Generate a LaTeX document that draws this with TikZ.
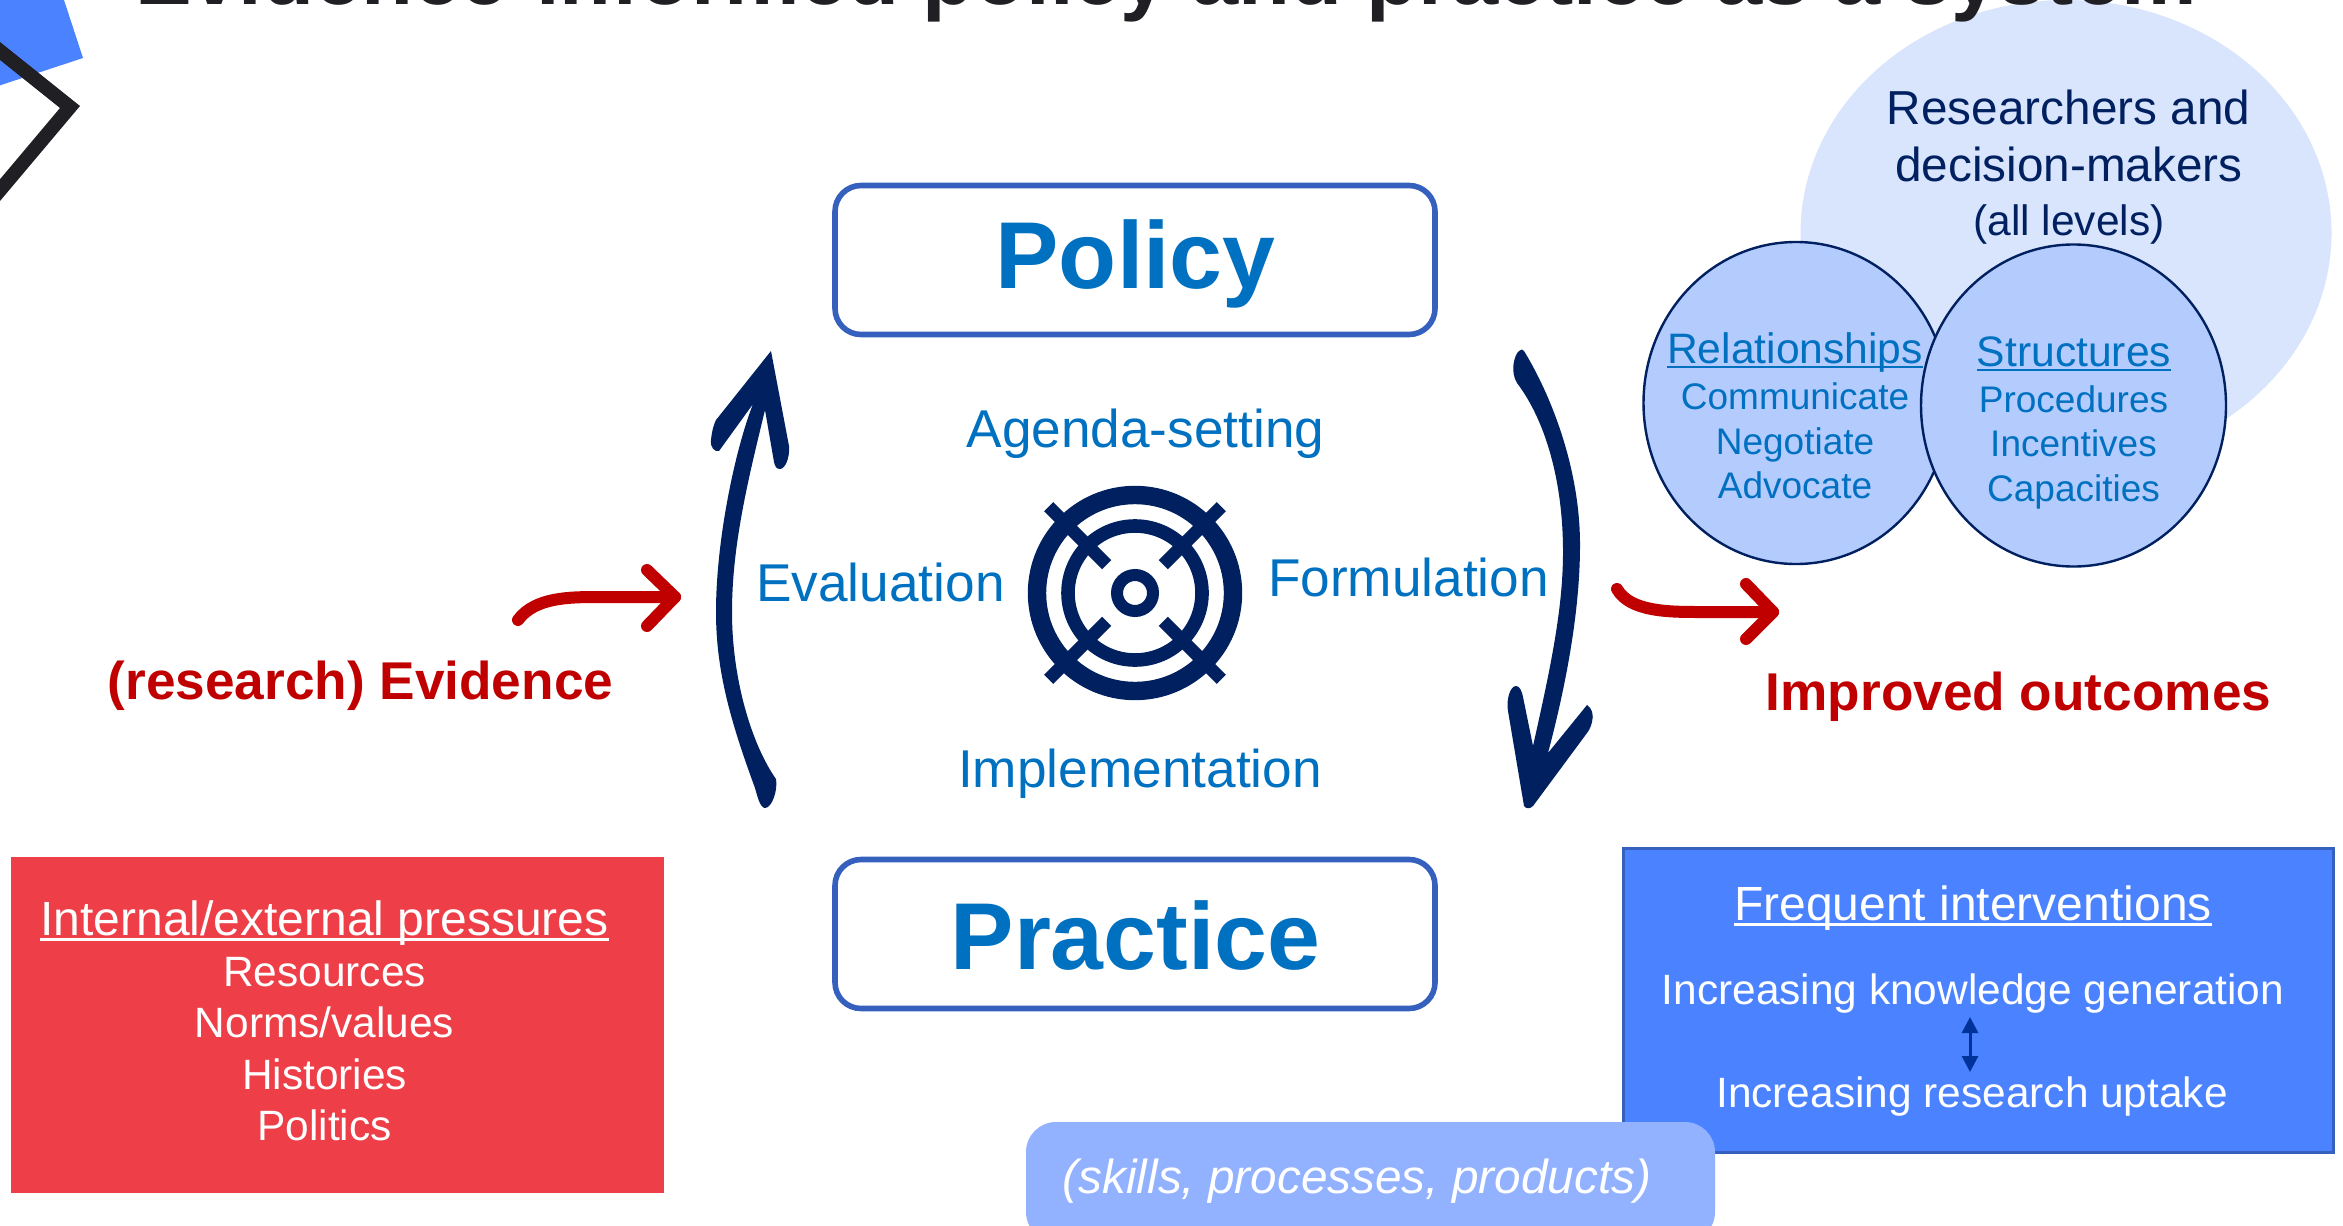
\documentclass[tikz,border=0pt]{standalone}
\usepackage{fontspec}
\usetikzlibrary{shapes.geometric,arrows.meta,calc}
\setmainfont{Liberation Sans}
\definecolor{navy}{HTML}{002060}
\definecolor{tblue}{HTML}{0070C0}
\definecolor{tred}{HTML}{C00000}
\definecolor{boxedge}{HTML}{3560BE}
\definecolor{redbox}{HTML}{EE3F48}
\definecolor{bluebox}{HTML}{4A82FF}
\definecolor{palebox}{HTML}{92B2FF}
\definecolor{palecirc}{HTML}{D9E4FD}
\definecolor{midcirc}{HTML}{B4CBFD}
\definecolor{inkblack}{HTML}{1F1F24}
\definecolor{dblarrow}{HTML}{003399}
% font size given in points (1 reference px = 0.5 pt)
\newcommand{\pxf}[1]{\fontsize{#1pt}{#1pt}\selectfont}
\newcommand{\myul}[1]{\sbox0{#1}\rlap{\rule[-0.115em]{\wd0}{0.06em}}\box0}
\tikzset{
  lbl/.style={inner sep=0pt,outer sep=0pt,anchor=base,align=center},
  blu/.style={lbl,text=tblue},
  nav/.style={lbl,text=navy},
  wht/.style={lbl,text=white},
  rdb/.style={lbl,text=tred,font=\pxf{26.6}\bfseries},
  mainbox/.style={draw=boxedge,line width=2.8pt,fill=white,rounded corners=13pt,inner sep=0pt,minimum width=300pt,minimum height=74.5pt},
  smallcirc/.style={ellipse,draw=navy,line width=1.2pt,fill=midcirc,inner sep=0pt,minimum width=152.5pt,minimum height=161pt},
  redline/.style={draw=tred,line width=6pt,line cap=round,line join=round},
  navyfill/.style={fill=navy,draw=none},
}
\begin{document}
\begin{tikzpicture}[x=0.5pt,y=-0.5pt]
\useasboundingbox (0,0) rectangle (2343,1225);
\clip (0,0) rectangle (2343,1225);
% corner decoration
\fill[bluebox] (-5,0) -- (64,0) -- (83,58) -- (-5,87) -- cycle;
\draw[inkblack,line width=7pt,miter limit=10] (-10,43) -- (70,107) -- (-10,202);
% researchers group
\node[ellipse,fill=palecirc,inner sep=0pt,minimum width=265.5pt,minimum height=233pt] (bigcirc) at (2066,233) {};
% title
\node[lbl,text=inkblack,font=\pxf{42.45}\bfseries] (title) at (1166,5) {Evidence-informed policy and practice as a system};
\node[nav,font=\pxf{23.85}] (res1) at (2068.5,125) {Researchers and};
\node[nav,font=\pxf{23.85}] (res2) at (2069,181.5) {decision-makers};
\node[nav,font=\pxf{21.25}] (res3) at (2069,235) {(all levels)};
\node[smallcirc] (relcirc) at (1796,403) {};
\node[smallcirc] (strcirc) at (2073.5,405.5) {};
\node[blu,font=\pxf{21.3}] (rel0) at (1795,363.5) {\myul{Relationships}};
\node[blu,font=\pxf{18.5}] (rel1) at (1795,409.5) {Communicate};
\node[blu,font=\pxf{18.5}] (rel2) at (1795,454.5) {Negotiate};
\node[blu,font=\pxf{18.5}] (rel3) at (1795,498.5) {Advocate};
\node[blu,font=\pxf{21.3}] (str0) at (2074,366.5) {\myul{Structures}};
\node[blu,font=\pxf{18.5}] (str1) at (2073.5,412.5) {Procedures};
\node[blu,font=\pxf{18.5}] (str2) at (2073.5,456.5) {Incentives};
\node[blu,font=\pxf{18.5}] (str3) at (2073.5,501.5) {Capacities};
% main boxes
\node[mainbox] (policybox) at (1135,260) {};
\node[mainbox] (practicebox) at (1135,934) {};
\node[blu,font=\pxf{47.5}\bfseries] (policy) at (1135.5,288.5) {Policy};
\node[blu,font=\pxf{47.5}\bfseries] (practice) at (1135.5,969) {Practice};
% cycle labels
\node[blu,font=\pxf{26.6}] (agenda) at (1145.5,447.5) {Agenda-setting};
\node[blu,font=\pxf{26.6}] (eval) at (880.5,601.5) {Evaluation};
\node[blu,font=\pxf{26.6}] (form) at (1408.5,596) {Formulation};
\node[blu,font=\pxf{26.6}] (impl) at (1140,787.5) {Implementation};
% target icon
\coordinate (tc) at (1135,593);
\draw[navy,line width=9.2pt] (tc) circle [radius=98];
\draw[navy,line width=6.8pt] (tc) circle [radius=67];
\draw[navy,line width=6pt] (tc) circle [radius=18];
\foreach \a in {45,135,225,315}
  \draw[navy,line width=6.5pt] ($(tc)+(\a:40)$) -- ($(tc)+(\a:122)$);
% left cycle arrow
\fill[navyfill] (771,351) -- (789,446) .. controls (790,458) and (785,469) .. (780,469)
  .. controls (776,469) and (775,466) .. (774,462) -- (765,410)
  .. controls (748,480) and (732,545) .. (732,612)
  .. controls (732,680) and (752,745) .. (776,779)
  .. controls (778,790) and (772,808) .. (765,808)
  .. controls (760,808) and (757,795) .. (755,788)
  .. controls (730,720) and (716,670) .. (716,612)
  .. controls (716,540) and (735,450) .. (753,404)
  -- (719,451) .. controls (715,452) and (710,448) .. (711,440)
  .. controls (712,430) and (714,424) .. (716,420) -- cycle;
% right cycle arrow
\fill[navyfill] (1524,351) .. controls (1545,385) and (1580,460) .. (1580,545)
  .. controls (1580,620) and (1562,700) .. (1548,753) -- (1587,705)
  .. controls (1592,708) and (1594,715) .. (1592,722)
  .. controls (1590,730) and (1588,731) .. (1587,733) -- (1533,806)
  .. controls (1530,809) and (1526,809) .. (1524,806) -- (1508,711)
  .. controls (1506,700) and (1510,686) .. (1516,686)
  .. controls (1520,686) and (1522,692) .. (1523,697) -- (1533,746)
  .. controls (1550,670) and (1563,610) .. (1563,552)
  .. controls (1563,480) and (1545,420) .. (1517,383)
  .. controls (1510,372) and (1514,355) .. (1519,351)
  .. controls (1521,349) and (1523,349) .. (1524,351) -- cycle;
% red arrows
\coordinate (ev0) at (518,620);
\coordinate (ev1) at (675,597);
\draw[redline] (ev0) .. controls (535,597) and (570,597) .. (600,597) -- (ev1);
\draw[redline] (647,570) -- (ev1) -- (647,626);
\coordinate (ou0) at (1617,589);
\coordinate (ou1) at (1773,612);
\draw[redline] (ou0) .. controls (1630,612) and (1670,612) .. (1700,612) -- (ou1);
\draw[redline] (1746,584) -- (ou1) -- (1746,639);
\node[rdb] (evid) at (360.5,699) {(research) Evidence};
\node[rdb] (outc) at (2018.5,710) {Improved outcomes};
% red box
\node[rectangle,fill=redbox,inner sep=0pt,minimum width=326.5pt,minimum height=168pt] (redb) at (337.5,1025) {};
\node[wht,font=\pxf{24}] (p0) at (324.5,935) {\myul{Internal/external pressures}};
\node[wht,font=\pxf{21.2}] (p1) at (324.5,986.5) {Resources};
\node[wht,font=\pxf{21.2}] (p2) at (324.5,1037) {Norms/values};
\node[wht,font=\pxf{21.2}] (p3) at (324.5,1089.5) {Histories};
\node[wht,font=\pxf{21.2}] (p4) at (324.5,1140.5) {Politics};
% blue box
\node[rectangle,fill=bluebox,draw=boxedge,line width=1.5pt,inner sep=0pt,minimum width=355pt,minimum height=152pt] (blueb) at (1978,1000) {};
\node[wht,font=\pxf{24}] (f0) at (1973,920) {\myul{Frequent interventions}};
\node[wht,font=\pxf{21.2}] (f1) at (1973,1004.5) {Increasing knowledge generation};
\node[wht,font=\pxf{21.2}] (f2) at (1972,1107.5) {Increasing research uptake};
\coordinate (au) at (1970,1017);
\coordinate (ad) at (1970,1072);
\draw[dblarrow,line width=1.5pt,{Triangle[length=8pt,width=8pt]}-{Triangle[length=8pt,width=8pt]}] (au) -- (ad);
% skills box
\node[rectangle,rounded corners=15pt,fill=palebox,inner sep=0pt,minimum width=344.5pt,minimum height=60pt] (skills) at (1370.5,1182) {};
\node[wht,font=\pxf{23.85}\itshape] (sk) at (1357,1193.5) {(skills, processes, products)};
\end{tikzpicture}
\end{document}
